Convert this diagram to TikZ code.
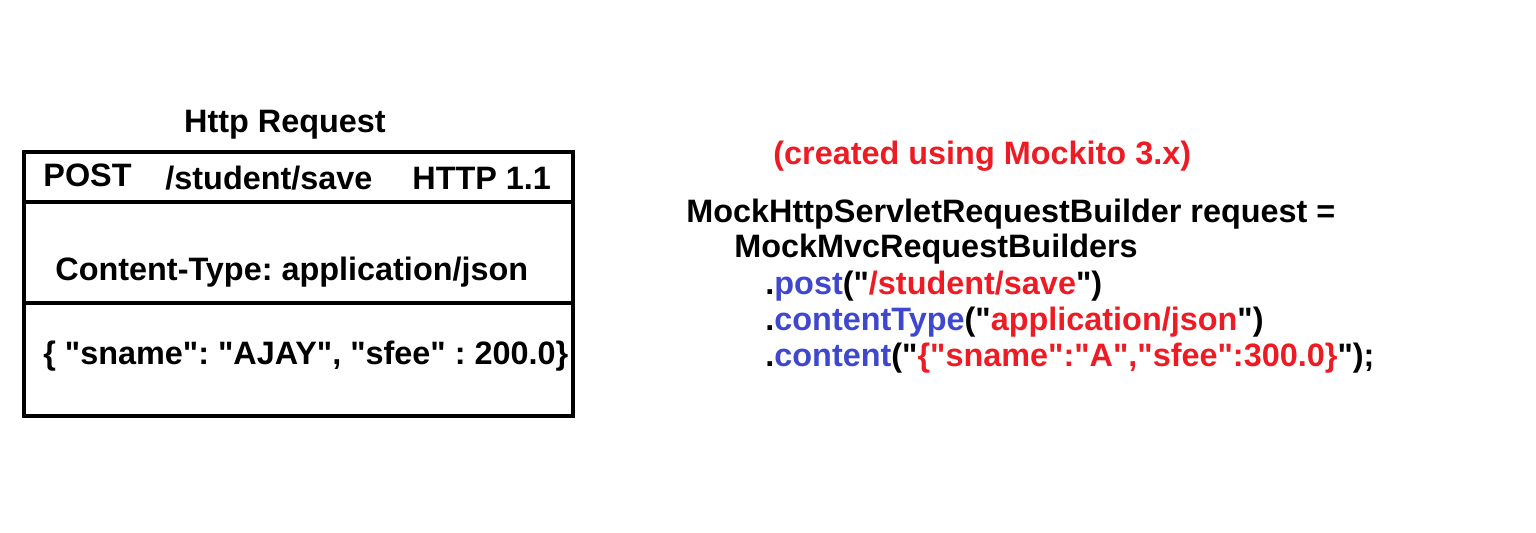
\documentclass[tikz,border=0pt]{standalone}
\usepackage{fontspec}
\setmainfont{Liberation Sans}[Ligatures=TeXOff]
\usetikzlibrary{positioning}

\definecolor{mspred}{RGB}{237,28,36}
\definecolor{mspblue}{RGB}{63,72,204}

\newcommand{\mth}[1]{\textcolor{mspblue}{#1}}
\newcommand{\str}[1]{\textcolor{mspred}{#1}}
\frenchspacing

\begin{document}
\begin{tikzpicture}[
    x=0.5pt, y=-0.5pt,
    txt/.style={anchor=base west, inner sep=0pt, font=\fontsize{16.2}{19}\selectfont\bfseries},
    frame/.style={draw, line width=2pt},
    sep/.style={draw, line width=1.6pt},
]
\useasboundingbox (0,0) rectangle (1536,532);

% the http request
\node[txt, anchor=base] (title) at (285,132) {Http Request};
\draw[frame] (24,152) rectangle (573,416);
\draw[sep] (24,202) -- (573,202);
\draw[sep] (24,303) -- (573,303);
\node[txt] (method) at (43,186) {POST};
\node[txt] (uri) at (165,189) {/student/save};
\node[txt] (proto) at (412,189) {HTTP 1.1};
\node[txt] (ctype) at (55,280) {Content-Type: application/json};
\node[txt] (body) at (43,364) {\{ "sname": "AJAY", "sfee" : 200.0\}};

% the builder code
\node[txt, text=mspred] (note) at (773,164) {(created using Mockito 3.x)};
\node[txt] (decl) at (686,222) {MockHttpServletRequestBuilder request =};
\node[txt] (cls) at (734,257) {MockMvcRequestBuilders};
\node[txt] (post) at (765,294) {.\mth{post}("\str{/student/save}")};
\node[txt] (type) at (765,330) {.\mth{contentType}("\str{application/json}")};
\node[txt] (cont) at (765,366) {.\mth{content}("\str{\{"sname":"A","sfee":300.0\}}");};
\end{tikzpicture}
\end{document}
